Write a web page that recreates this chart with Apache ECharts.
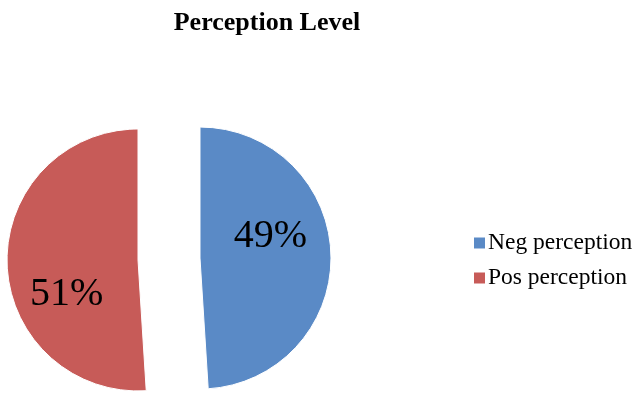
<!DOCTYPE html>
<html>
<head>
<meta charset="utf-8">
<script src="https://cdn.jsdelivr.net/npm/echarts@6/dist/echarts.min.js"></script>
<style>html,body{margin:0;padding:0;background:#fff}#chart{width:636px;height:397px}</style>
</head>
<body>
<div id="chart"></div>
<script>
// Perception level shares (percent)
const categories = ['Neg perception', 'Pos perception'];
const values = [49, 51];
const colors = ['#5A8AC6', '#C75B58'];
// per-slice label nudges away from the slice midpoint
const labelShift = [[2, -19], [-3, 32]];

const chart = echarts.init(document.getElementById('chart'));
chart.setOption({
  animation: false,
  title: {
    text: 'Perception Level',
    left: 262, top: 5, textAlign: 'center',
    textStyle: { fontFamily: 'Liberation Serif', fontSize: 26, fontWeight: 'bold', color: '#000' }
  },
  legend: {
    orient: 'vertical', left: 469, top: 226,
    itemWidth: 11, itemHeight: 11, itemGap: 11,
    icon: 'rect',
    itemStyle: { borderWidth: 0 },
    textStyle: { fontFamily: 'Liberation Serif', fontSize: 23.5, color: '#000', padding: [0, 0, 0, -2] },
    data: categories
  },
  series: [{
    type: 'pie',
    center: [169, 259],
    radius: 131,
    startAngle: 90,
    clockwise: true,
    selectedMode: 'multiple',
    selectedOffset: 31,
    emphasis: { disabled: true },
    itemStyle: { borderColor: '#fff', borderWidth: 1 },
    label: {
      position: 'inner',
      formatter: p => p.value + '%',
      fontFamily: 'Liberation Serif', fontSize: 40, color: '#000'
    },
    labelLine: { show: false },
    labelLayout: p => ({ dx: labelShift[p.dataIndex][0], dy: labelShift[p.dataIndex][1] }),
    data: categories.map((c, i) => ({ name: c, value: values[i], selected: true, itemStyle: { color: colors[i] } }))
  }]
});
</script>
</body>
</html>
